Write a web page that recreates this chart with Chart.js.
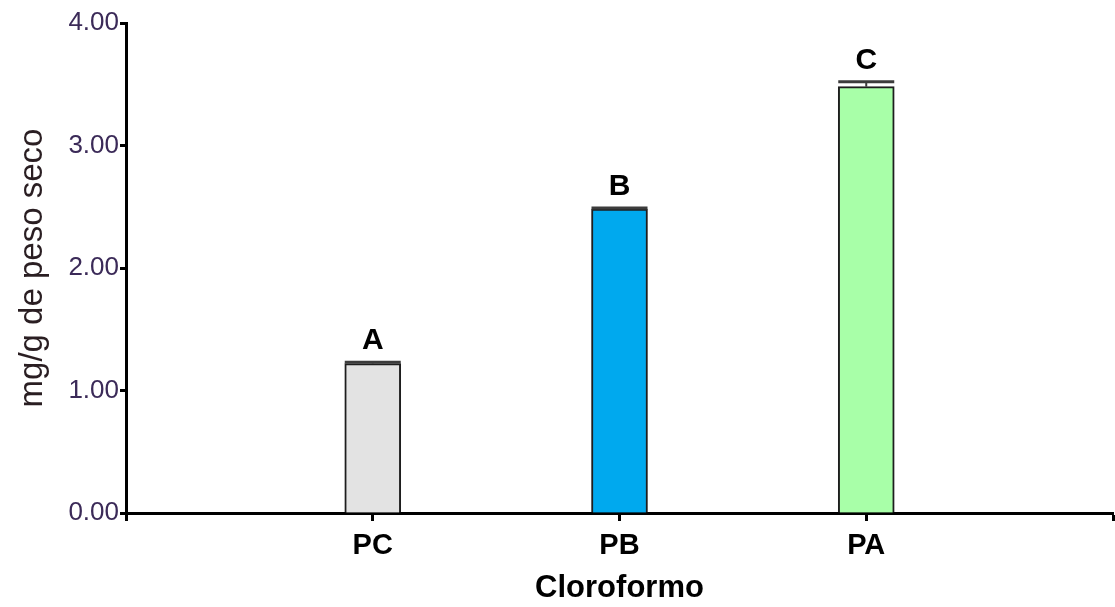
<!DOCTYPE html>
<html>
<head>
<meta charset="utf-8">
<script src="https://cdn.jsdelivr.net/npm/chart.js@4.4.1/dist/chart.umd.min.js"></script>
<style>
  html, body { margin: 0; padding: 0; background: #ffffff; overflow: hidden; }
  #wrap { width: 1121px; height: 607px; position: relative; }
</style>
</head>
<body>
<div id="wrap"><canvas id="chart"></canvas></div>
<script>
// Categories (empty slots at both ends keep the axis running past the bars)
const categories = ['', 'PC', 'PB', 'PA', ''];
// Mean content, mg/g dry weight
const meanValues = [null, 1.22, 2.48, 3.48, null];
// Standard deviation of each mean
const sdValues = [null, 0.01, 0.01, 0.04, null];
// Significance group letters shown above each bar
const groupLetters = ['', 'A', 'B', 'C', ''];
// Y axis ticks
const yTicks = [0, 1, 2, 3, 4];

const barColors = ['#ffffff', '#e3e3e3', '#00a9ee', '#a8ffa8', '#ffffff'];
const FONT = 'Arial, "Liberation Sans", sans-serif';

// Error bars and group letters drawn over each bar
const errorBarsAndLetters = {
  id: 'errorBarsAndLetters',
  afterDatasetsDraw(chart) {
    const ctx = chart.ctx;
    const meta = chart.getDatasetMeta(0);
    const y = chart.scales.y;
    meta.data.forEach((bar, i) => {
      const v = meanValues[i];
      if (v === null) return;
      const sd = sdValues[i] || 0;
      const half = bar.width / 2;
      const yTop = y.getPixelForValue(v + sd);
      const yMean = y.getPixelForValue(v);
      ctx.save();
      ctx.strokeStyle = '#3c3c3c';
      ctx.lineWidth = 2;
      ctx.beginPath();
      ctx.moveTo(bar.x, yMean);
      ctx.lineTo(bar.x, yTop);
      ctx.stroke();
      ctx.lineWidth = 3;
      ctx.beginPath();
      ctx.moveTo(bar.x - half, yTop);
      ctx.lineTo(bar.x + half, yTop);
      ctx.stroke();
      ctx.fillStyle = '#000000';
      ctx.font = 'bold 30px ' + FONT;
      ctx.textAlign = 'center';
      ctx.textBaseline = 'alphabetic';
      ctx.fillText(groupLetters[i], bar.x, yTop - 13);
      ctx.restore();
    });
  }
};

new Chart(document.getElementById('chart'), {
  type: 'bar',
  data: {
    labels: categories,
    datasets: [{
      data: meanValues,
      backgroundColor: barColors,
      borderColor: '#1e1e1e',
      borderWidth: 2,
      borderSkipped: 'bottom',
      barThickness: 56
    }]
  },
  options: {
    responsive: true,
    maintainAspectRatio: false,
    animation: false,
    layout: { padding: { top: 23, right: 0, left: 0, bottom: 0 } },
    plugins: {
      legend: { display: false },
      tooltip: { enabled: false }
    },
    scales: {
      x: {
        type: 'category',
        offset: false,
        grid: {
          display: true,
          offset: false,
          drawOnChartArea: false,
          drawTicks: true,
          tickLength: 8,
          tickWidth: 3,
          tickColor: '#000000'
        },
        border: { display: true, width: 3, color: '#000000' },
        ticks: {
          padding: 8,
          autoSkip: false,
          maxRotation: 0,
          color: '#000000',
          font: { family: FONT, size: 29, weight: 'bold' }
        },
        title: {
          display: true,
          text: 'Cloroformo',
          color: '#000000',
          padding: { top: 2, bottom: 0 },
          font: { family: FONT, size: 31, weight: 'bold' }
        },
        afterFit(scale) { scale.height = 94; }
      },
      y: {
        min: 0,
        max: 4,
        afterBuildTicks(scale) { scale.ticks = yTicks.map(v => ({ value: v })); },
        grid: {
          display: true,
          drawOnChartArea: false,
          drawTicks: true,
          tickLength: 6,
          tickWidth: 3,
          tickColor: '#000000'
        },
        border: { display: true, width: 3, color: '#000000' },
        ticks: {
          padding: 1,
          color: '#3b2a58',
          font: { family: FONT, size: 26 },
          callback: v => Number(v).toFixed(2)
        },
        title: {
          display: true,
          text: 'mg/g de peso seco',
          color: '#2a1e22',
          padding: { top: 13, bottom: 0 },
          font: { family: FONT, size: 33 }
        },
        afterFit(scale) { scale.width = 126; }
      }
    }
  },
  plugins: [errorBarsAndLetters]
});
</script>
</body>
</html>
